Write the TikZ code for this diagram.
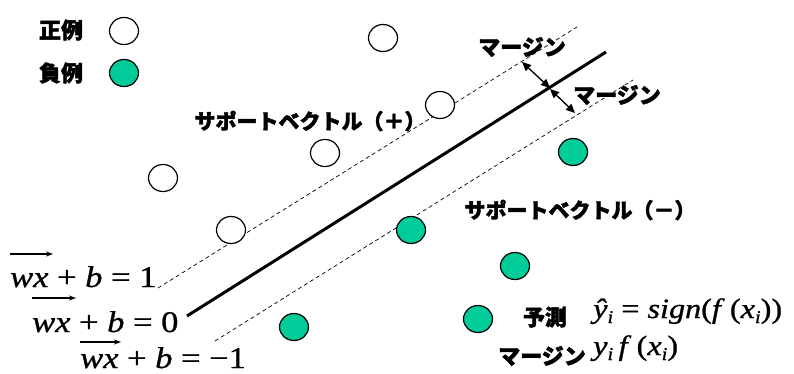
\documentclass[tikz,border=0pt]{standalone}
\usepackage{fontspec}
\usepackage{graphicx}
\setmainfont{Liberation Serif}
\newfontfamily\eqf[FakeBold=0.8]{Liberation Serif}
\newfontfamily\jp[FakeBold=1.8]{Noto Sans CJK JP}
\usetikzlibrary{shapes.geometric,arrows.meta}
\definecolor{svmgreen}{HTML}{00CC99}
\newcommand{\subi}{\raisebox{-5pt}{\fontsize{18}{18}\selectfont i}}
\begin{document}
\begin{tikzpicture}[x=1pt,y=-1pt,
  posex/.style={ellipse,draw,line width=1.2pt,fill=white,minimum width=29pt,minimum height=27pt,inner sep=0pt},
  negex/.style={posex,fill=svmgreen},
  jlabel/.style={font=\jp\bfseries\fontsize{22}{24}\selectfont,inner sep=0pt},
  svlabel/.style={font=\jp\bfseries\fontsize{21}{24}\selectfont,inner sep=0pt},
  eqn/.style={font=\eqf\fontsize{30}{32}\selectfont,inner sep=0pt,anchor=base west},
  vecarrow/.style={line width=1.3pt,-{Stealth[length=7pt,width=5pt]}},
  margin/.style={line width=0.7pt,dash pattern=on 4pt off 3pt},
  hyper/.style={line width=3pt},
  marrow/.style={line width=1.3pt,{Triangle[length=9pt,width=8pt]}-{Triangle[length=9pt,width=8pt]}}
]
\useasboundingbox (0,0) rectangle (794,374);
\fill[white] (0,0) rectangle (794,374);

% legend
\node[jlabel] (lpos) at (61,30) {正例};
\node[posex] (lposc) at (124,31) {};
\node[jlabel] (lneg) at (61,73) {負例};
\node[negex] (lnegc) at (124,73) {};

% lines
\coordinate (u0) at (158,288); \coordinate (u1) at (577,27);
\coordinate (h0) at (187,316); \coordinate (h1) at (606,52);
\coordinate (l0) at (215,341); \coordinate (l1) at (633,80);
\draw[margin] (u0) -- (u1);
\draw[margin] (l0) -- (l1);
\draw[hyper] (h0) -- (h1);

% margin arrows
\coordinate (ma) at (522,62); \coordinate (mb) at (550,88);
\coordinate (mc) at (550,89); \coordinate (md) at (575,113);
\draw[marrow] (ma) -- (mb);
\draw[marrow] (mc) -- (md);
\node[jlabel] (mlab1) at (522,47) {マージン};
\node[jlabel] (mlab2) at (617,95) {マージン};

% positive examples
\node[posex] (p1) at (383,38) {};
\node[posex] (p2) at (440,105) {};
\node[posex] (p3) at (325,153) {};
\node[posex] (p4) at (163,178) {};
\node[posex] (p5) at (231,230) {};

% negative examples
\node[negex] (n1) at (573,152) {};
\node[negex] (n2) at (411,230) {};
\node[negex] (n3) at (515,266) {};
\node[negex] (n4) at (294,327) {};
\node[negex] (n5) at (478,319) {};

% support vector labels
\node[svlabel] (svp) at (310,121) {サポートベクトル（＋）};
\node[svlabel] (svn) at (580,210) {サポートベクトル（－）};

% equations
\node[eqn] (eq1) at (10,287) {\scalebox{1.15}[1]{\textit{wx} + \textit{b} = 1}};
\node[eqn] (eq2) at (32,332) {\scalebox{1.15}[1]{\textit{wx} + \textit{b} = 0}};
\node[eqn] (eq3) at (80,368) {\scalebox{1.15}[1]{\textit{wx} + \textit{b} = −1}};
\draw[vecarrow] (10,254) -- (53,254);
\draw[vecarrow] (32,298) -- (76,298);
\draw[vecarrow] (80,342) -- (121,342);

% prediction
\node[jlabel] (pred) at (545,317) {予測};
\node[eqn,font=\eqf\fontsize{28}{30}\selectfont] (predeq) at (593,318) {\scalebox{1.15}[1]{\textit{ŷ\subi} = \textit{sign}(\textit{f}\,(\textit{x\subi}))}};
\node[jlabel] (marg) at (542,356) {マージン};
\node[eqn,font=\eqf\fontsize{28}{30}\selectfont] (margeq) at (593,355) {\scalebox{1.15}[1]{\textit{y\subi}\,\textit{f}\,(\textit{x\subi})}};
\end{tikzpicture}
\end{document}
